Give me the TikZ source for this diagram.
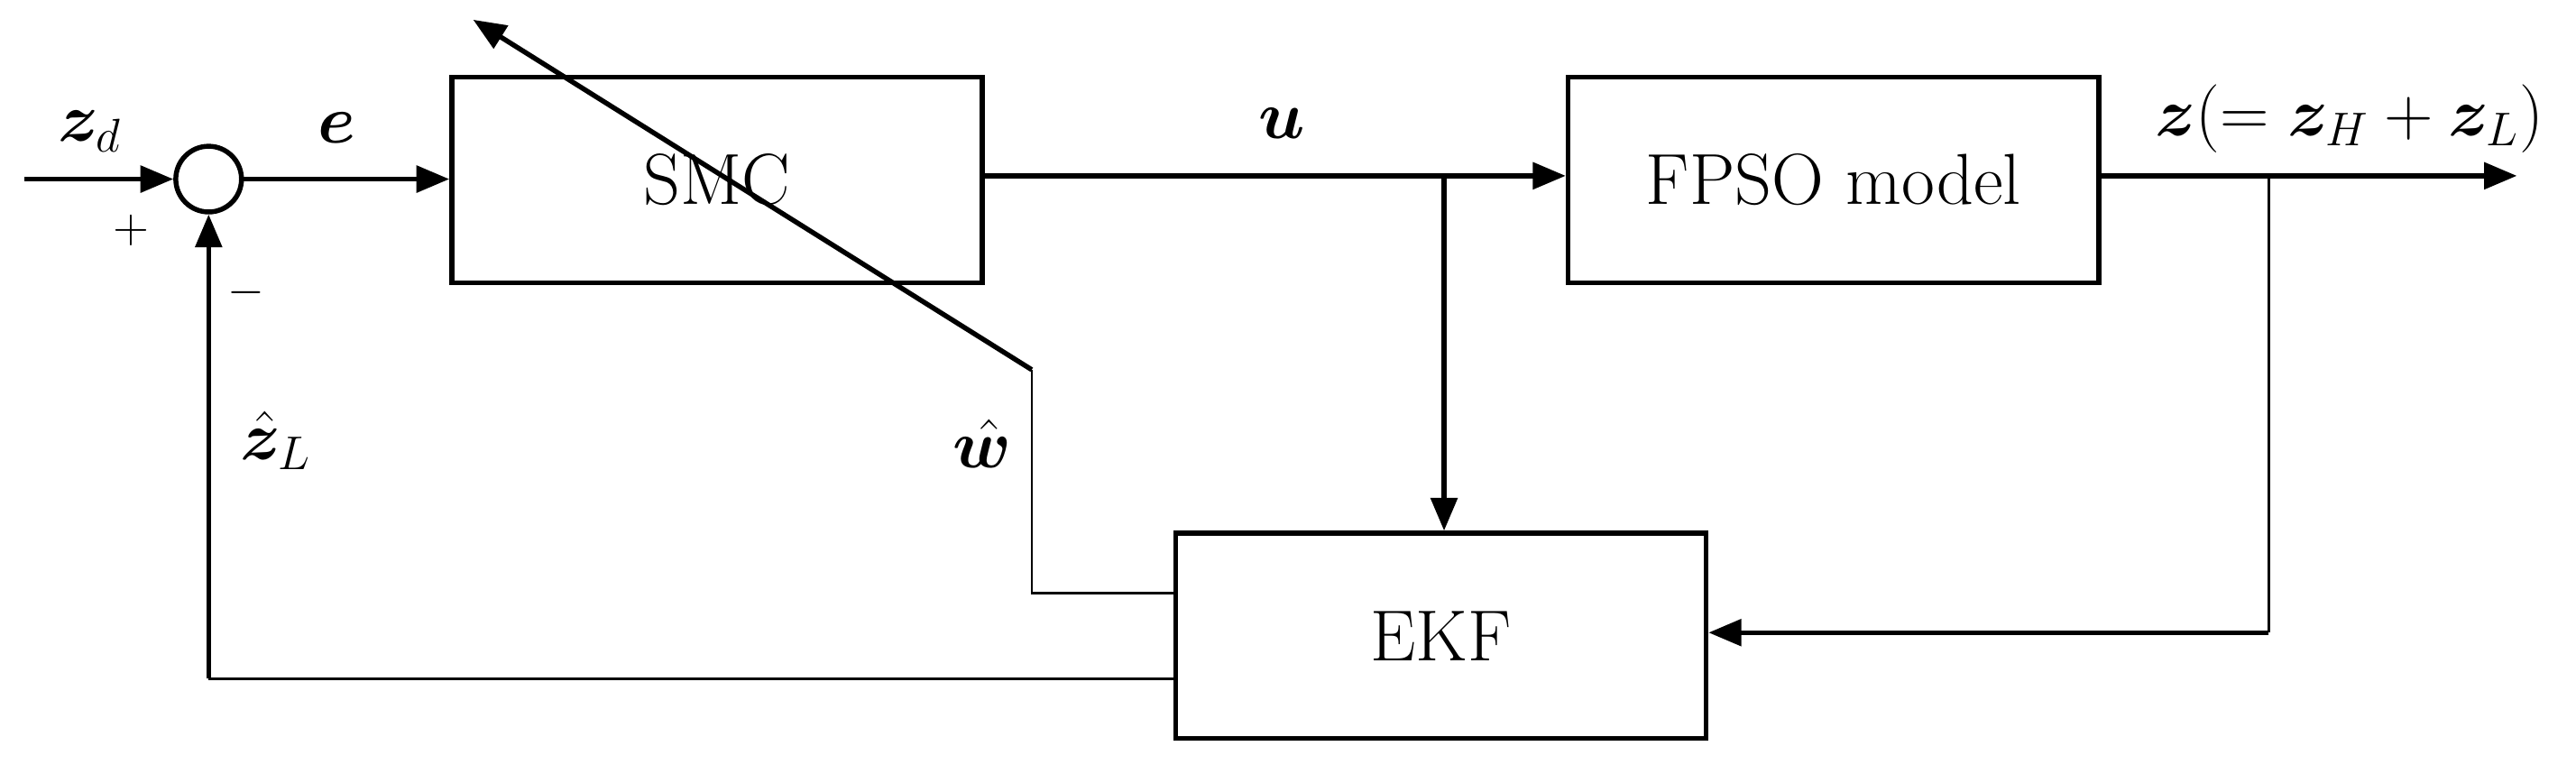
\documentclass[tikz,border=0pt]{standalone}
\usepackage{bm}
\usetikzlibrary{arrows.meta}
\begin{document}
\begin{tikzpicture}[x=0.5pt,y=-0.5pt,
  blk/.style={draw,line width=1.5pt,minimum width=161.5pt,minimum height=62.5pt,inner sep=0pt,font=\fontsize{22}{26}\selectfont},
  thk/.style={line width=1.5pt},
  thn/.style={line width=0.7pt},
  arr/.style={-{Triangle[length=10pt,width=8pt]}},
  lbl/.style={font=\fontsize{22}{26}\selectfont,inner sep=0pt}]
\useasboundingbox (0,0) rectangle (1568,471);
\node[blk] (smc) at (436.5,109.5) {SMC};
\node[blk] (fpso) at (1116,109.5) {FPSO model};
\node[blk] (ekf) at (877,387) {EKF};
\node[draw,thk,circle,minimum size=20pt,inner sep=0pt] (sum) at (127,109) {};
\coordinate (in) at (15,109);
\coordinate (out) at (1532,107);
\coordinate (ub) at (879,107);
\coordinate (zb) at (1381,107);
\coordinate (w1) at (628,361);
\coordinate (w2) at (628,225);
\coordinate (wtip) at (288,12);
\coordinate (z1) at (127,413);
\draw[thk,arr] (in) -- (sum);
\draw[thk,arr] (sum) -- (smc.west |- sum);
\draw[thk,arr] (smc.east |- ub) -- (fpso.west |- ub);
\draw[thk,arr] (ub) -- (ekf.north -| ub);
\draw[thk,arr] (fpso.east |- out) -- (out);
\draw[thn] (zb) -- (zb |- 0,385);
\draw[thk,arr] (zb |- 0,385) -- (ekf.east |- 0,385);
\draw[thn] (ekf.west |- w1) -- (w1) -- (w2);
\draw[thk,arr] (w2) -- (wtip);
\draw[thn] (ekf.west |- z1) -- (z1);
\draw[thk,arr] (z1) -- (sum.south);
\node[lbl] (lzd) at (55,80) {$\bm{z}_d$};
\node[lbl] (lp) at (80,140) {\fontsize{14}{16}\selectfont$+$};
\node[lbl] (lm) at (150,178) {\fontsize{14}{16}\selectfont$-$};
\node[lbl] (le) at (205,78) {$\bm{e}$};
\node[lbl] (lu) at (780,75) {$\bm{u}$};
\node[lbl] (lz) at (1430,72) {$\bm{z}(=\bm{z}_H+\bm{z}_L)$};
\node[lbl] (lw) at (598,270) {$\hat{\bm{w}}$};
\node[lbl] (lzl) at (168,268) {$\hat{\bm{z}}_L$};
\end{tikzpicture}
\end{document}
